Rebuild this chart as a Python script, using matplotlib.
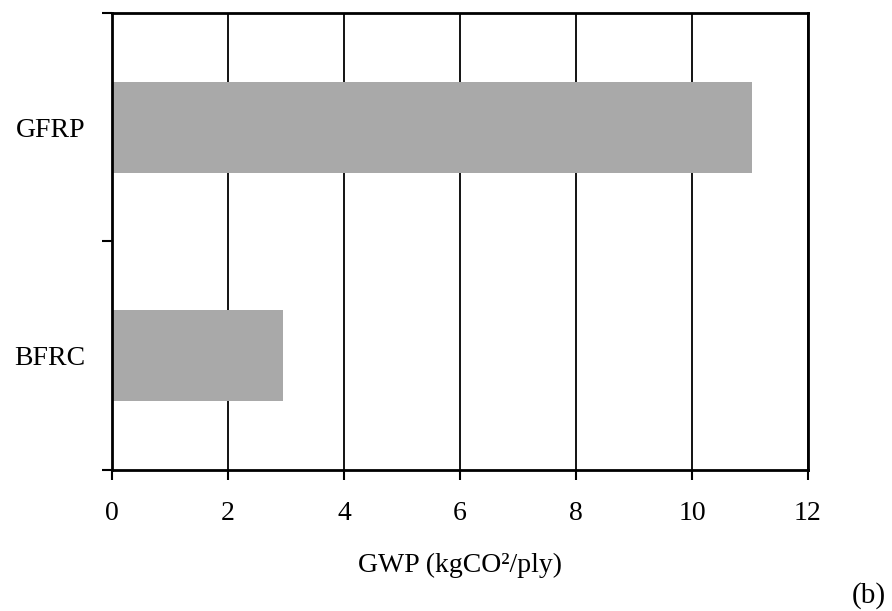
import numpy as np
import matplotlib.pyplot as plt

# ---- data ----
materials = ["BFRC", "GFRP"]
gwp = [2.95, 11.03]
x_ticks = [0, 2, 4, 6, 8, 10, 12]

BAR_COLOR = "#a9a9a9"
FONT = "Liberation Serif"

plt.rcParams["font.family"] = [FONT, "DejaVu Serif"]

fig = plt.figure(figsize=(8.92, 6.11), dpi=100)
ax = fig.add_axes([0.1256, 0.2308, 0.7802, 0.7479])

pos = np.arange(len(materials))
ax.barh(pos, gwp, height=0.4, color=BAR_COLOR, zorder=2)

# vertical grid at every x tick
ax.set_xlim(0, 12)
ax.set_xticks(x_ticks)
ax.set_xticklabels([str(t) for t in x_ticks], fontsize=20)
ax.xaxis.grid(True, color="black", linewidth=1.3, zorder=1)
ax.set_axisbelow(True)

# category boundaries get the ticks, names sit between them
ax.set_ylim(-0.5, 1.5)
ax.set_yticks([-0.5, 0.5, 1.5])
ax.set_yticklabels([])
ax.set_yticks(pos, minor=True)
ax.set_yticklabels(materials, minor=True, fontsize=20)
ax.tick_params(axis="y", which="minor", length=0, pad=19)
ax.tick_params(axis="y", which="major", direction="out", length=7, width=1.5)
ax.tick_params(axis="x", direction="out", length=7, width=1.5, pad=15)

for side in ["left", "right", "top", "bottom"]:
    ax.spines[side].set_linewidth(2)
    ax.spines[side].set_color("black")

ax.set_xlabel("GWP (kgCO²/ply)", fontsize=20, labelpad=20)

fig.text(0.974, 0.026, "(b)", fontsize=21, ha="center", va="center")

fig.savefig("out.png", dpi=100)
